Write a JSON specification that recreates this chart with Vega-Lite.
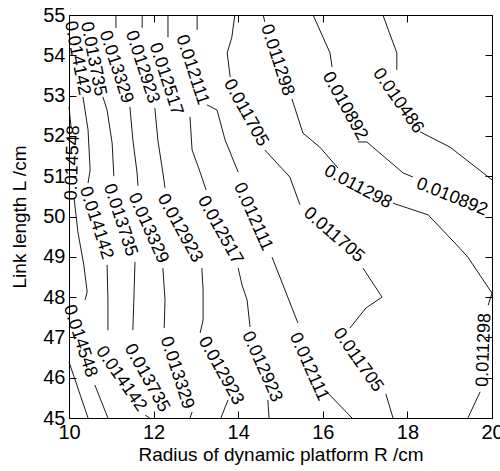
{
  "$schema": "https://vega.github.io/schema/vega-lite/v6.json",
  "width": 423,
  "height": 403,
  "autosize": "none",
  "padding": {"left": 69, "top": 15, "right": 8, "bottom": 53},
  "config": {
    "view": {"stroke": "black", "strokeWidth": 1},
    "font": "Liberation Sans",
    "axis": {"grid": false, "domain": false, "labelColor": "black", "tickColor": "black", "titleColor": "black", "titleFontWeight": "normal", "labelFlush": false, "labelOverlap": false}
  },
  "datasets": {
    "lines": [
      {"s": "a1", "i": 0, "x": 17.42, "y": 55},
      {"s": "a1", "i": 1, "x": 17.75, "y": 54.06},
      {"s": "a1", "i": 2, "x": 17.75, "y": 53.64},
      {"s": "a2", "i": 0, "x": 18.30, "y": 52.10},
      {"s": "a2", "i": 1, "x": 19.01, "y": 51.72},
      {"s": "a2", "i": 2, "x": 20.0, "y": 50.91},

      {"s": "b1", "i": 0, "x": 15.77, "y": 55},
      {"s": "b1", "i": 1, "x": 16.17, "y": 54.06},
      {"s": "b1", "i": 2, "x": 16.22, "y": 53.71},
      {"s": "b2", "i": 0, "x": 16.83, "y": 51.85},
      {"s": "b2", "i": 1, "x": 17.04, "y": 51.85},
      {"s": "b2", "i": 2, "x": 17.90, "y": 51.08},
      {"s": "b2", "i": 3, "x": 18.13, "y": 50.98},

      {"s": "c1", "i": 0, "x": 14.59, "y": 55},
      {"s": "c1", "i": 1, "x": 14.63, "y": 54.83},
      {"s": "c2", "i": 0, "x": 15.27, "y": 52.92},
      {"s": "c2", "i": 1, "x": 15.53, "y": 52.07},
      {"s": "c2", "i": 2, "x": 15.93, "y": 51.72},
      {"s": "c2", "i": 3, "x": 16.36, "y": 51.20},
      {"s": "c3", "i": 0, "x": 17.66, "y": 50.33},
      {"s": "c3", "i": 1, "x": 18.49, "y": 50.04},
      {"s": "c3", "i": 2, "x": 19.17, "y": 49.29},
      {"s": "c3", "i": 3, "x": 19.43, "y": 48.99},
      {"s": "c3", "i": 4, "x": 20.0, "y": 48.10},
      {"s": "c3", "i": 5, "x": 19.91, "y": 47.80},
      {"s": "c4", "i": 0, "x": 19.72, "y": 45.65},
      {"s": "c4", "i": 1, "x": 19.43, "y": 45},

      {"s": "d1", "i": 0, "x": 13.92, "y": 55},
      {"s": "d1", "i": 1, "x": 13.85, "y": 54.45},
      {"s": "d1", "i": 2, "x": 13.74, "y": 54.06},
      {"s": "d1", "i": 3, "x": 13.81, "y": 53.46},
      {"s": "d2", "i": 0, "x": 14.63, "y": 51.65},
      {"s": "d2", "i": 1, "x": 15.22, "y": 50.98},
      {"s": "d2", "i": 2, "x": 15.46, "y": 50.29},
      {"s": "d3", "i": 0, "x": 16.95, "y": 48.72},
      {"s": "d3", "i": 1, "x": 17.40, "y": 48.00},
      {"s": "d3", "i": 2, "x": 17.02, "y": 47.73},
      {"s": "d3", "i": 3, "x": 16.64, "y": 47.23},
      {"s": "d4", "i": 0, "x": 17.49, "y": 45.60},
      {"s": "d4", "i": 1, "x": 17.66, "y": 45},

      {"s": "e1", "i": 0, "x": 13.03, "y": 55},
      {"s": "e1", "i": 1, "x": 13.03, "y": 54.63},
      {"s": "e2", "i": 0, "x": 13.26, "y": 52.77},
      {"s": "e2", "i": 1, "x": 13.50, "y": 52.64},
      {"s": "e2", "i": 2, "x": 13.69, "y": 51.90},
      {"s": "e2", "i": 3, "x": 14.00, "y": 51.10},
      {"s": "e3", "i": 0, "x": 14.80, "y": 48.99},
      {"s": "e3", "i": 1, "x": 15.06, "y": 48.30},
      {"s": "e3", "i": 2, "x": 15.41, "y": 47.36},
      {"s": "e4", "i": 0, "x": 16.12, "y": 45.62},
      {"s": "e4", "i": 1, "x": 16.69, "y": 45},

      {"s": "f1", "i": 0, "x": 12.34, "y": 55},
      {"s": "f1", "i": 1, "x": 12.34, "y": 54.45},
      {"s": "f2", "i": 0, "x": 12.86, "y": 52.47},
      {"s": "f2", "i": 1, "x": 12.91, "y": 51.65},
      {"s": "f2", "i": 2, "x": 13.10, "y": 51.10},
      {"s": "f2", "i": 3, "x": 13.24, "y": 50.66},
      {"s": "f3", "i": 0, "x": 14.00, "y": 48.72},
      {"s": "f3", "i": 1, "x": 14.09, "y": 48.30},
      {"s": "f3", "i": 2, "x": 14.21, "y": 47.93},
      {"s": "f3", "i": 3, "x": 14.28, "y": 47.26},
      {"s": "f4", "i": 0, "x": 14.70, "y": 45.45},
      {"s": "f4", "i": 1, "x": 14.73, "y": 45},

      {"s": "g1", "i": 0, "x": 11.73, "y": 55},
      {"s": "g1", "i": 1, "x": 11.73, "y": 54.68},
      {"s": "g2", "i": 0, "x": 12.03, "y": 52.69},
      {"s": "g2", "i": 1, "x": 12.10, "y": 51.90},
      {"s": "g2", "i": 2, "x": 12.22, "y": 51.08},
      {"s": "g2", "i": 3, "x": 12.27, "y": 50.71},
      {"s": "g3", "i": 0, "x": 13.14, "y": 48.72},
      {"s": "g3", "i": 1, "x": 13.17, "y": 48.18},
      {"s": "g3", "i": 2, "x": 13.17, "y": 47.43},
      {"s": "g3", "i": 3, "x": 13.10, "y": 47.11},
      {"s": "g4", "i": 0, "x": 13.76, "y": 45.45},
      {"s": "g4", "i": 1, "x": 13.59, "y": 45},

      {"s": "h1", "i": 0, "x": 11.11, "y": 55},
      {"s": "h1", "i": 1, "x": 11.11, "y": 54.68},
      {"s": "h2", "i": 0, "x": 11.44, "y": 52.72},
      {"s": "h2", "i": 1, "x": 11.51, "y": 51.90},
      {"s": "h2", "i": 2, "x": 11.61, "y": 51.08},
      {"s": "h2", "i": 3, "x": 11.63, "y": 50.76},
      {"s": "h3", "i": 0, "x": 12.22, "y": 48.72},
      {"s": "h3", "i": 1, "x": 12.27, "y": 47.93},
      {"s": "h3", "i": 2, "x": 12.25, "y": 47.23},
      {"s": "h4", "i": 0, "x": 12.91, "y": 45.15},
      {"s": "h4", "i": 1, "x": 12.86, "y": 45},

      {"s": "j2", "i": 0, "x": 10.80, "y": 52.97},
      {"s": "j2", "i": 1, "x": 10.90, "y": 52.64},
      {"s": "j2", "i": 2, "x": 11.02, "y": 51.82},
      {"s": "j2", "i": 3, "x": 11.06, "y": 51.00},
      {"s": "j3", "i": 0, "x": 11.56, "y": 48.87},
      {"s": "j3", "i": 1, "x": 11.54, "y": 48.18},
      {"s": "j3", "i": 2, "x": 11.51, "y": 47.18},

      {"s": "k2", "i": 0, "x": 10.33, "y": 52.97},
      {"s": "k2", "i": 1, "x": 10.45, "y": 52.15},
      {"s": "k2", "i": 2, "x": 10.50, "y": 51.15},
      {"s": "k2", "i": 3, "x": 10.45, "y": 50.83},
      {"s": "k3", "i": 0, "x": 10.90, "y": 48.80},
      {"s": "k3", "i": 1, "x": 10.92, "y": 47.93},
      {"s": "k3", "i": 2, "x": 10.92, "y": 47.18},
      {"s": "k4", "i": 0, "x": 11.80, "y": 45.07},
      {"s": "k4", "i": 1, "x": 11.91, "y": 45},

      {"s": "m1", "i": 0, "x": 10.0, "y": 52.72},
      {"s": "m1", "i": 1, "x": 10.05, "y": 52.20},
      {"s": "m2", "i": 0, "x": 10.12, "y": 50.46},
      {"s": "m2", "i": 1, "x": 10.21, "y": 49.62},
      {"s": "m2", "i": 2, "x": 10.35, "y": 48.80},
      {"s": "m2", "i": 3, "x": 10.43, "y": 48.13},
      {"s": "m2", "i": 4, "x": 10.38, "y": 47.93},
      {"s": "m3", "i": 0, "x": 10.61, "y": 45.82},
      {"s": "m3", "i": 1, "x": 10.92, "y": 45},
      {"s": "n1", "i": 0, "x": 10.0, "y": 46.39},
      {"s": "n1", "i": 1, "x": 10.45, "y": 45}
    ],
    "labels": [
      {"k": 1, "t": "0.014548", "x": 10.09, "y": 51.33},
      {"k": 2, "t": "0.011298", "x": 19.81, "y": 46.69},
      {"k": 3, "t": "0.014142", "x": 10.19, "y": 53.93},
      {"k": 4, "t": "0.013735", "x": 10.57, "y": 53.91},
      {"k": 5, "t": "0.013329", "x": 11.11, "y": 53.71},
      {"k": 6, "t": "0.012923", "x": 11.73, "y": 53.71},
      {"k": 7, "t": "0.012517", "x": 12.29, "y": 53.41},
      {"k": 8, "t": "0.012111", "x": 12.91, "y": 53.64},
      {"k": 9, "t": "0.011298", "x": 14.92, "y": 53.88},
      {"k": 10, "t": "0.014548", "x": 10.26, "y": 46.91},
      {"k": 11, "t": "0.013735", "x": 11.21, "y": 49.91},
      {"k": 12, "t": "0.014142", "x": 10.64, "y": 49.84},
      {"k": 13, "t": "0.013329", "x": 12.55, "y": 46.12},
      {"k": 14, "t": "0.012111", "x": 14.35, "y": 49.99},
      {"k": 15, "t": "0.012111", "x": 15.67, "y": 46.27},
      {"k": 16, "t": "0.012923", "x": 14.56, "y": 46.27},
      {"k": 17, "t": "0.013329", "x": 11.87, "y": 49.71},
      {"k": 18, "t": "0.012923", "x": 12.62, "y": 49.71},
      {"k": 19, "t": "0.012517", "x": 13.57, "y": 49.66},
      {"k": 20, "t": "0.012923", "x": 13.59, "y": 46.17},
      {"k": 21, "t": "0.011705", "x": 14.18, "y": 52.57},
      {"k": 22, "t": "0.010892", "x": 16.52, "y": 52.74},
      {"k": 23, "t": "0.013735", "x": 11.84, "y": 45.99},
      {"k": 24, "t": "0.010486", "x": 17.78, "y": 52.87},
      {"k": 25, "t": "0.014142", "x": 11.23, "y": 45.97},
      {"k": 26, "t": "0.011705", "x": 16.83, "y": 46.44},
      {"k": 27, "t": "0.011705", "x": 16.26, "y": 49.54},
      {"k": 28, "t": "0.011298", "x": 16.83, "y": 50.73},
      {"k": 29, "t": "0.010892", "x": 19.05, "y": 50.48}
    ]
  },
  "layer": [
    {
      "data": {"name": "lines"},
      "mark": {"type": "line", "color": "black", "strokeWidth": 0.9},
      "encoding": {
        "x": {"field": "x", "type": "quantitative", "scale": {"domain": [10, 20], "nice": false, "zero": false},
              "axis": {"orient": "bottom", "values": [10, 12, 14, 16, 18, 20], "tickSize": -7, "labelPadding": 11, "labelFontSize": 20, "title": "Radius of dynamic platform R /cm", "titleFontSize": 19, "titlePadding": 3}},
        "y": {"field": "y", "type": "quantitative", "scale": {"domain": [45, 55], "nice": false, "zero": false},
              "axis": {"orient": "left", "values": [45, 46, 47, 48, 49, 50, 51, 52, 53, 54, 55], "tickSize": -7, "labelPadding": 11, "labelFontSize": 20, "title": "Link length L /cm", "titleFontSize": 19, "titlePadding": 13}},
        "detail": {"field": "s"},
        "order": {"field": "i"}
      }
    },
    {
      "data": {"name": "lines"},
      "mark": {"type": "point", "opacity": 0},
      "encoding": {
        "x": {"field": "x", "type": "quantitative", "axis": {"orient": "top", "values": [10, 12, 14, 16, 18, 20], "tickSize": -7, "labels": false, "title": null}},
        "y": {"field": "y", "type": "quantitative", "axis": {"orient": "right", "values": [45, 46, 47, 48, 49, 50, 51, 52, 53, 54, 55], "tickSize": -7, "labels": false, "title": null}}
      }
    },
    {
      "data": {"name": "labels"},
      "transform": [{"filter": {"field": "k", "oneOf": [1, 2]}}],
      "mark": {"type": "text", "angle": 272, "fontSize": 18, "color": "black", "align": "center", "baseline": "middle"},
      "encoding": {"x": {"field": "x", "type": "quantitative", "axis": null}, "y": {"field": "y", "type": "quantitative", "axis": null}, "text": {"field": "t"}}
    },
    {
      "data": {"name": "labels"},
      "transform": [{"filter": {"field": "k", "oneOf": [3, 4]}}],
      "mark": {"type": "text", "angle": 79, "fontSize": 18, "color": "black", "align": "center", "baseline": "middle"},
      "encoding": {"x": {"field": "x", "type": "quantitative", "axis": null}, "y": {"field": "y", "type": "quantitative", "axis": null}, "text": {"field": "t"}}
    },
    {
      "data": {"name": "labels"},
      "transform": [{"filter": {"field": "k", "oneOf": [5, 6, 7, 8, 9, 10, 11, 12, 13]}}],
      "mark": {"type": "text", "angle": 72, "fontSize": 18, "color": "black", "align": "center", "baseline": "middle"},
      "encoding": {"x": {"field": "x", "type": "quantitative", "axis": null}, "y": {"field": "y", "type": "quantitative", "axis": null}, "text": {"field": "t"}}
    },
    {
      "data": {"name": "labels"},
      "transform": [{"filter": {"field": "k", "oneOf": [14, 15, 16, 17]}}],
      "mark": {"type": "text", "angle": 66, "fontSize": 18, "color": "black", "align": "center", "baseline": "middle"},
      "encoding": {"x": {"field": "x", "type": "quantitative", "axis": null}, "y": {"field": "y", "type": "quantitative", "axis": null}, "text": {"field": "t"}}
    },
    {
      "data": {"name": "labels"},
      "transform": [{"filter": {"field": "k", "oneOf": [18, 19, 20, 21, 22, 23]}}],
      "mark": {"type": "text", "angle": 61, "fontSize": 18, "color": "black", "align": "center", "baseline": "middle"},
      "encoding": {"x": {"field": "x", "type": "quantitative", "axis": null}, "y": {"field": "y", "type": "quantitative", "axis": null}, "text": {"field": "t"}}
    },
    {
      "data": {"name": "labels"},
      "transform": [{"filter": {"field": "k", "oneOf": [24, 25, 26]}}],
      "mark": {"type": "text", "angle": 55, "fontSize": 18, "color": "black", "align": "center", "baseline": "middle"},
      "encoding": {"x": {"field": "x", "type": "quantitative", "axis": null}, "y": {"field": "y", "type": "quantitative", "axis": null}, "text": {"field": "t"}}
    },
    {
      "data": {"name": "labels"},
      "transform": [{"filter": {"field": "k", "oneOf": [27]}}],
      "mark": {"type": "text", "angle": 41, "fontSize": 18, "color": "black", "align": "center", "baseline": "middle"},
      "encoding": {"x": {"field": "x", "type": "quantitative", "axis": null}, "y": {"field": "y", "type": "quantitative", "axis": null}, "text": {"field": "t"}}
    },
    {
      "data": {"name": "labels"},
      "transform": [{"filter": {"field": "k", "oneOf": [28]}}],
      "mark": {"type": "text", "angle": 28, "fontSize": 18, "color": "black", "align": "center", "baseline": "middle"},
      "encoding": {"x": {"field": "x", "type": "quantitative", "axis": null}, "y": {"field": "y", "type": "quantitative", "axis": null}, "text": {"field": "t"}}
    },
    {
      "data": {"name": "labels"},
      "transform": [{"filter": {"field": "k", "oneOf": [29]}}],
      "mark": {"type": "text", "angle": 22, "fontSize": 18, "color": "black", "align": "center", "baseline": "middle"},
      "encoding": {"x": {"field": "x", "type": "quantitative", "axis": null}, "y": {"field": "y", "type": "quantitative", "axis": null}, "text": {"field": "t"}}
    }
  ],
  "resolve": {"axis": {"x": "independent", "y": "independent"}}
}
